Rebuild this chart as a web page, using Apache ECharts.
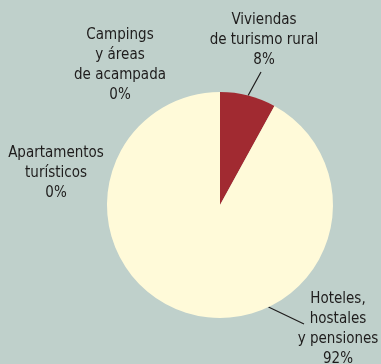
<!DOCTYPE html>
<html>
<head>
<meta charset="utf-8">
<script src="https://cdn.jsdelivr.net/npm/echarts@6/dist/echarts.min.js"></script>
<style>
  html, body { margin: 0; padding: 0; background: #bfd0cb; }
  #chart { width: 381px; height: 364px; }
</style>
</head>
<body>
<div id="chart"></div>
<script>
// Tipo de alojamiento (share of total, %)
const categories = [
  'Viviendas\nde turismo rural',
  'Hoteles,\nhostales\ny pensiones',
  'Apartamentos\nturísticos',
  'Campings\ny áreas\nde acampada'
];
const shares = [8, 92, 0, 0];
const sliceColors = ['#a12a31', '#fffad9', '#fffad9', '#fffad9'];

// Pie geometry
const CX = 220, CY = 205, R = 113;
const LINE_H = 20;

// Where each text block sits (top-centre) and how its leader line is drawn
const labelPlacement = [
  { x: 264, y: 10,  leader: true,  edgeAngle: null, tipDx: -3,  tipDy: 62 },
  { x: 338, y: 289, leader: true,  edgeAngle: 154.6, tipDx: -34, tipDy: 35 },
  { x: 56,  y: 143, leader: false },
  { x: 120, y: 25,  leader: false }
];

const total = shares.reduce((a, b) => a + b, 0);
function midAngle(i) {
  let before = 0;
  for (let k = 0; k < i; k++) before += shares[k];
  return (before + shares[i] / 2) / total * 360;
}
function edgePoint(deg) {
  const a = deg * Math.PI / 180;
  return [CX + R * Math.sin(a), CY - R * Math.cos(a)];
}

const chart = echarts.init(document.getElementById('chart'), null, { renderer: 'canvas' });

chart.setOption({
  animation: false,
  backgroundColor: '#bfd0cb',
  series: [{
    type: 'pie',
    center: [CX, CY],
    radius: [0, R],
    startAngle: 90,
    clockwise: true,
    avoidLabelOverlap: false,
    silent: true,
    itemStyle: { borderWidth: 0 },
    label: {
      show: true,
      position: 'outside',
      formatter: '{b}\n{d}%',
      fontFamily: "'DejaVu Sans Condensed', sans-serif",
      fontSize: 15,
      lineHeight: LINE_H,
      color: '#1e1c1c',
      align: 'center'
    },
    labelLine: {
      show: true,
      lineStyle: { color: '#1e1c1c', width: 1.2 }
    },
    labelLayout: function (params) {
      const p = labelPlacement[params.dataIndex];
      const out = { x: p.x, y: p.y, align: 'center', verticalAlign: 'top' };
      if (p.leader) {
        const start = edgePoint(p.edgeAngle == null ? midAngle(params.dataIndex) : p.edgeAngle);
        const tip = [p.x + p.tipDx, p.y + p.tipDy];
        out.labelLinePoints = [start, [(start[0] + tip[0]) / 2, (start[1] + tip[1]) / 2], tip];
      }
      return out;
    },
    data: categories.map((name, i) => ({
      name: name,
      value: shares[i],
      itemStyle: { color: sliceColors[i] },
      labelLine: { show: labelPlacement[i].leader }
    }))
  }]
});
</script>
</body>
</html>
